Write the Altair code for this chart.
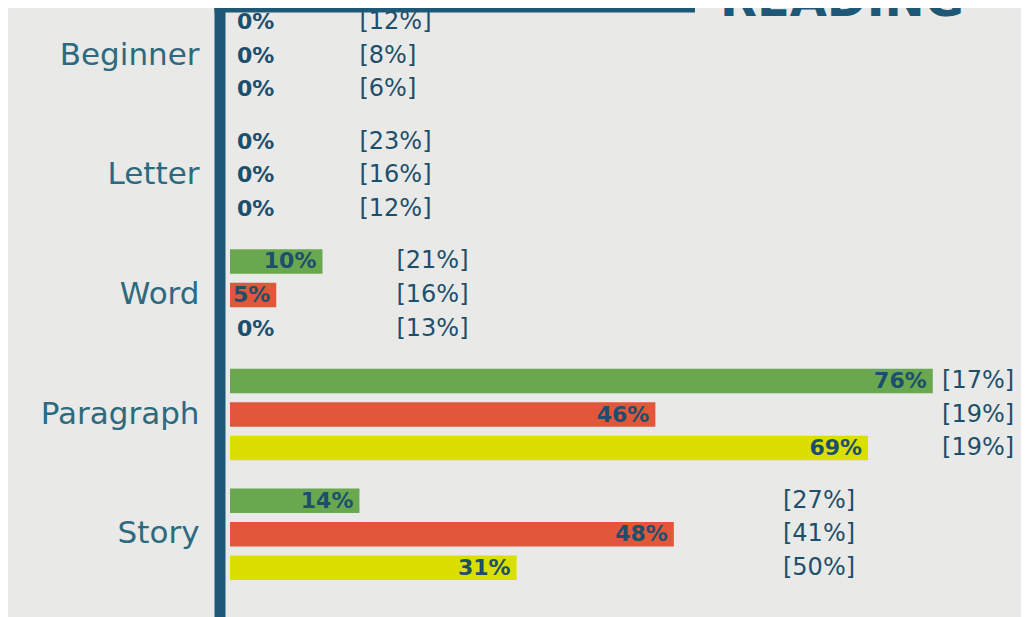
import altair as alt
import pandas as pd

categories = ["Beginner", "Letter", "Word", "Paragraph", "Story"]
series = ["Group 1", "Group 2", "Group 3"]
group1 = [0, 0, 10, 76, 14]
group2 = [0, 0, 5, 46, 48]
group3 = [0, 0, 0, 69, 31]
bracket1 = [12, 23, 21, 17, 27]
bracket2 = [8, 16, 16, 19, 41]
bracket3 = [6, 12, 13, 19, 50]
colors = ["#69a84f", "#e2573a", "#dadf00"]

rows = []
for s, vals, brs in zip(series, [group1, group2, group3], [bracket1, bracket2, bracket3]):
    for c, v, b in zip(categories, vals, brs):
        rows.append({"category": c, "series": s, "value": v,
                     "label": f"{v}%", "bracket": f"[{b}%]"})
df = pd.DataFrame(rows)

TEXT = "#1d4f6c"
AXIS = "#1e5877"
FONT = "DejaVu Sans"

y_enc = alt.Y("category:N", sort=categories,
              scale=alt.Scale(range=[-12, 586], paddingInner=0, paddingOuter=0),
              axis=alt.Axis(title=None, ticks=False, tickSize=0, grid=False,
                            domain=False, offset=10,
                            labelPadding=21, labelFont=FONT, labelFontSize=31,
                            labelColor="#2d6a80", labelFontWeight="normal"))
yoff = alt.YOffset("series:N", sort=series,
                   scale=alt.Scale(paddingInner=0.27, paddingOuter=0.42))
x_enc = alt.X("value:Q", scale=alt.Scale(domain=[0, 85], nice=False), axis=None)

base = alt.Chart(df)

bars = base.mark_bar(cornerRadius=0).encode(
    x=x_enc, y=y_enc, yOffset=yoff,
    color=alt.Color("series:N", sort=series,
                    scale=alt.Scale(domain=series, range=colors), legend=None),
)

pos_labels = base.transform_filter("datum.value > 0").mark_text(
    align="right", baseline="middle", dx=-6, font=FONT, fontSize=22,
    fontWeight="bold", color=TEXT
).encode(x=x_enc, y=y_enc, yOffset=yoff, text="label:N")

zero_labels = base.transform_filter("datum.value == 0").mark_text(
    align="left", baseline="middle", dx=7, font=FONT, fontSize=22,
    fontWeight="bold", color=TEXT
).encode(x=x_enc, y=y_enc, yOffset=yoff, text="label:N")

brackets = base.transform_joinaggregate(
    gmax="max(value)", groupby=["category"]
).transform_calculate(
    bx="min(max(datum.gmax * 1.1 + 7, 14), 77)"
).mark_text(
    align="left", baseline="middle", font=FONT, fontSize=24, color=TEXT
).encode(x=alt.X("bx:Q", scale=alt.Scale(domain=[0, 85], nice=False), axis=None),
         y=y_enc, yOffset=yoff, text="bracket:N")

frame = pd.DataFrame({"k": [0]})
top_rule = alt.Chart(frame).mark_rule(
    color=AXIS, strokeWidth=9
).encode(x=alt.value(-15.5), x2=alt.value(465), y=alt.value(0))

side_rule = alt.Chart(frame).mark_rule(
    color=AXIS, strokeWidth=11
).encode(x=alt.value(-10), y=alt.value(0), y2=alt.value(609))

title = alt.Chart(pd.DataFrame({"t": ["READING"]})).mark_text(
    align="center", baseline="alphabetic", font=FONT, fontSize=48,
    fontWeight="bold", color=AXIS
).encode(x=alt.value(612), y=alt.value(8), text="t:N")

chart = alt.layer(bars, pos_labels, zero_labels, brackets, top_rule, side_rule, title).properties(
    width=786, height=609,
    padding={"left": 222, "top": 0, "right": 5, "bottom": 0},
    autosize="none",
    background="#e9e9e7",
).configure_view(stroke=None)

chart.save("out.html", embed_options={"renderer": "svg", "actions": False})
